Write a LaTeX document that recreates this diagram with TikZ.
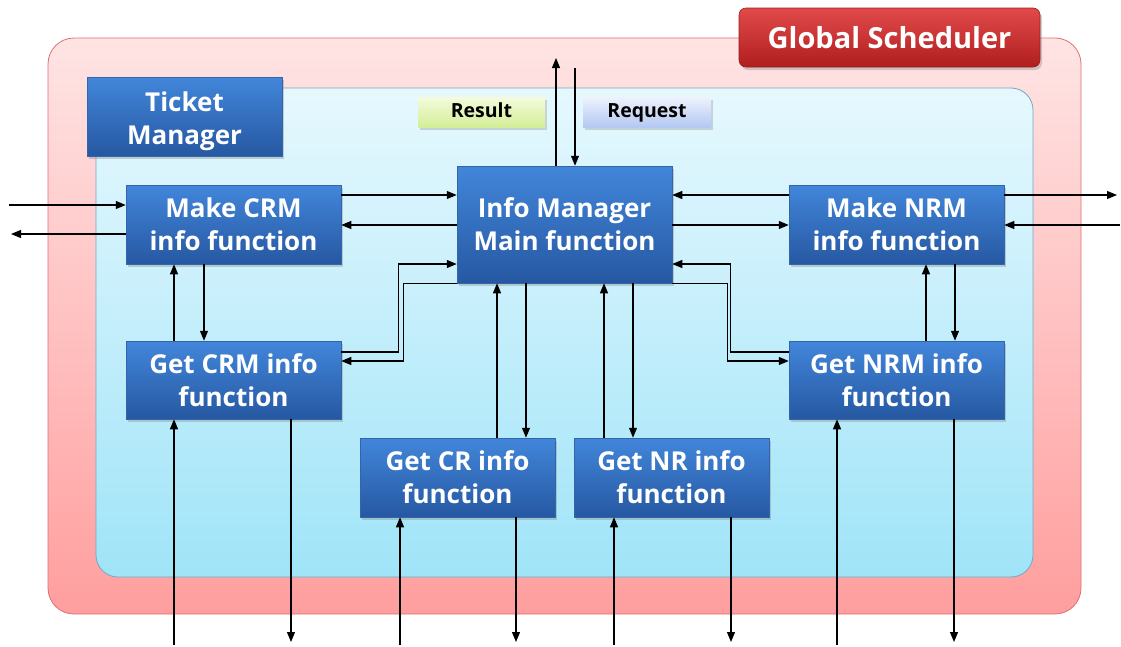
\documentclass[tikz,border=0pt]{standalone}
\usepackage{fontspec}
\setmainfont{Open Sans}
\usetikzlibrary{arrows.meta,shadows}

\definecolor{bluetop}{RGB}{66,134,218}
\definecolor{bluebot}{RGB}{38,88,162}
\definecolor{blueedge}{RGB}{52,100,170}
\definecolor{pinktop}{RGB}{255,228,228}
\definecolor{pinkbot}{RGB}{255,158,158}
\definecolor{pinkedge}{RGB}{222,112,112}
\definecolor{cyantop}{RGB}{230,248,254}
\definecolor{cyanbot}{RGB}{160,228,248}
\definecolor{cyanedge}{RGB}{110,170,196}
\definecolor{redtop}{RGB}{226,74,74}
\definecolor{redbot}{RGB}{176,30,30}
\definecolor{rededge}{RGB}{150,30,30}
\definecolor{limetop}{RGB}{244,251,220}
\definecolor{limebot}{RGB}{212,238,152}
\definecolor{lavtop}{RGB}{238,242,253}
\definecolor{lavbot}{RGB}{180,200,242}

\tikzset{
  funcbox/.style={rectangle, draw=blueedge, line width=0.5pt,
    top color=bluetop, bottom color=bluebot, text=white,
    font=\bfseries\fontsize{26}{33}\selectfont, align=center, inner sep=0pt,
    drop shadow={opacity=0.35, shadow xshift=2pt, shadow yshift=-3pt}},
  tagbox/.style={rectangle, inner sep=0pt, text=black,
    text height=15pt, text depth=5pt,
    font=\bfseries\fontsize{19.5}{24}\selectfont,
    drop shadow={opacity=0.3, shadow xshift=1.5pt, shadow yshift=-2.5pt}},
  titlebox/.style={rectangle, rounded corners=7pt, draw=rededge, line width=0.6pt,
    top color=redtop, bottom color=redbot, text=white, inner sep=0pt,
    font=\bfseries\fontsize{29}{34}\selectfont,
    drop shadow={opacity=0.35, shadow xshift=2pt, shadow yshift=-3pt}},
  arr/.style={line width=1.1pt, -{Triangle[length=10pt,width=8pt]}},
}

\begin{document}
\begin{tikzpicture}[x=1pt,y=-1pt]
\useasboundingbox (0,0) rectangle (1121,646);

% scheduler panel and inner manager area
\draw[draw=pinkedge, line width=0.8pt, top color=pinktop, bottom color=pinkbot,
      rounded corners=26pt] (48,38) rectangle (1081,614);
\draw[draw=cyanedge, line width=0.8pt, top color=cyantop, bottom color=cyanbot,
      rounded corners=22pt] (96,88) rectangle (1033,577);

% titles and legend tags
\node[titlebox, minimum width=301pt, minimum height=59pt] (gstitle) at (889.5,37.5) {Global Scheduler};
\node[funcbox, minimum width=195pt, minimum height=79pt] (tm) at (184.5,116.5) {\rule{0pt}{30pt}Ticket\\Manager};
\node[tagbox, top color=limetop, bottom color=limebot, minimum width=127pt, minimum height=30pt] (res) at (481.5,112) {Result};
\node[tagbox, top color=lavtop, bottom color=lavbot, minimum width=128pt, minimum height=30pt] (req) at (647,112) {Request};

% function blocks
\node[funcbox, minimum width=215pt, minimum height=79pt] (mcrm) at (233.5,224.5) {Make CRM\\info function};
\node[funcbox, minimum width=215pt, minimum height=117pt] (info) at (564.5,224.5) {Info Manager\\Main function};
\node[funcbox, minimum width=215pt, minimum height=79pt] (mnrm) at (896.5,224.5) {Make NRM\\info function};
\node[funcbox, minimum width=215pt, minimum height=78pt] (gcrm) at (233.5,380) {Get CRM info\\function};
\node[funcbox, minimum width=215pt, minimum height=78pt] (gnrm) at (896.5,380) {Get NRM info\\function};
\node[funcbox, minimum width=195pt, minimum height=79pt] (gcr) at (457.5,477.5) {Get CR info\\function};
\node[funcbox, minimum width=195pt, minimum height=79pt] (gnr) at (671.5,477.5) {Get NR info\\function};

% free ends of the external connectors
\coordinate (inL) at (9,205);
\coordinate (outL) at (11,234);
\coordinate (outR) at (1117,195);
\coordinate (inR) at (1120,225);
\coordinate (outT) at (556,58);
\coordinate (inT) at (575,68);
\coordinate (b1) at (174,645);
\coordinate (b2) at (291,642);
\coordinate (b3) at (400,645);
\coordinate (b4) at (516,642);
\coordinate (b5) at (614,645);
\coordinate (b6) at (731,642);
\coordinate (b7) at (837,645);
\coordinate (b8) at (954,642);

% external links
\draw[arr] (inL) -- (inL -| mcrm.west);
\draw[arr] (outL -| mcrm.west) -- (outL);
\draw[arr] (outR -| mnrm.east) -- (outR);
\draw[arr] (inR) -- (inR -| mnrm.east);
\draw[arr] (outT |- info.north) -- (outT);
\draw[arr] (inT) -- (inT |- info.north);
\draw[arr] (b1) -- (b1 |- gcrm.south);
\draw[arr] (b2 |- gcrm.south) -- (b2);
\draw[arr] (b3) -- (b3 |- gcr.south);
\draw[arr] (b4 |- gcr.south) -- (b4);
\draw[arr] (b5) -- (b5 |- gnr.south);
\draw[arr] (b6 |- gnr.south) -- (b6);
\draw[arr] (b7) -- (b7 |- gnrm.south);
\draw[arr] (b8 |- gnrm.south) -- (b8);

% make blocks <-> main function
\draw[arr] ([yshift=29.5pt]mcrm.east) -- ([yshift=29.5pt]info.west);
\draw[arr] ([yshift=-0.5pt]info.west) -- ([yshift=-0.5pt]mcrm.east);
\draw[arr] ([yshift=29.5pt]mnrm.west) -- ([yshift=29.5pt]info.east);
\draw[arr] ([yshift=-0.5pt]info.east) -- ([yshift=-0.5pt]mnrm.west);

% make blocks <-> get blocks
\draw[arr] ([xshift=-59.5pt]gcrm.north) -- ([xshift=-59.5pt]mcrm.south);
\draw[arr] ([xshift=-29.5pt]mcrm.south) -- ([xshift=-29.5pt]gcrm.north);
\draw[arr] ([xshift=29.5pt]gnrm.north) -- ([xshift=29.5pt]mnrm.south);
\draw[arr] ([xshift=58.5pt]mnrm.south) -- ([xshift=58.5pt]gnrm.north);

% get CR / NR blocks <-> main function
\coordinate (u1) at ([xshift=39.5pt]gcr.north);
\coordinate (d1) at ([xshift=68.5pt]gcr.north);
\coordinate (u2) at ([xshift=-67.5pt]gnr.north);
\coordinate (d2) at ([xshift=-38.5pt]gnr.north);
\draw[arr] (u1) -- (u1 |- info.south);
\draw[arr] (d1 |- info.south) -- (d1);
\draw[arr] (u2) -- (u2 |- info.south);
\draw[arr] (d2 |- info.south) -- (d2);

% get CRM / NRM blocks <-> main function (elbow routes)
\draw[arr] ([yshift=28pt]gcrm.east) -- ++(57,0) |- ([yshift=-39.5pt]info.west);
\draw[arr] (info.south west) -- ++(-53,0) |- ([yshift=19pt]gcrm.east);
\draw[arr] ([yshift=28pt]gnrm.west) -- ++(-58,0) |- ([yshift=-39.5pt]info.east);
\draw[arr] (info.south east) -- ++(55,0) |- ([yshift=19pt]gnrm.west);
\end{tikzpicture}
\end{document}
